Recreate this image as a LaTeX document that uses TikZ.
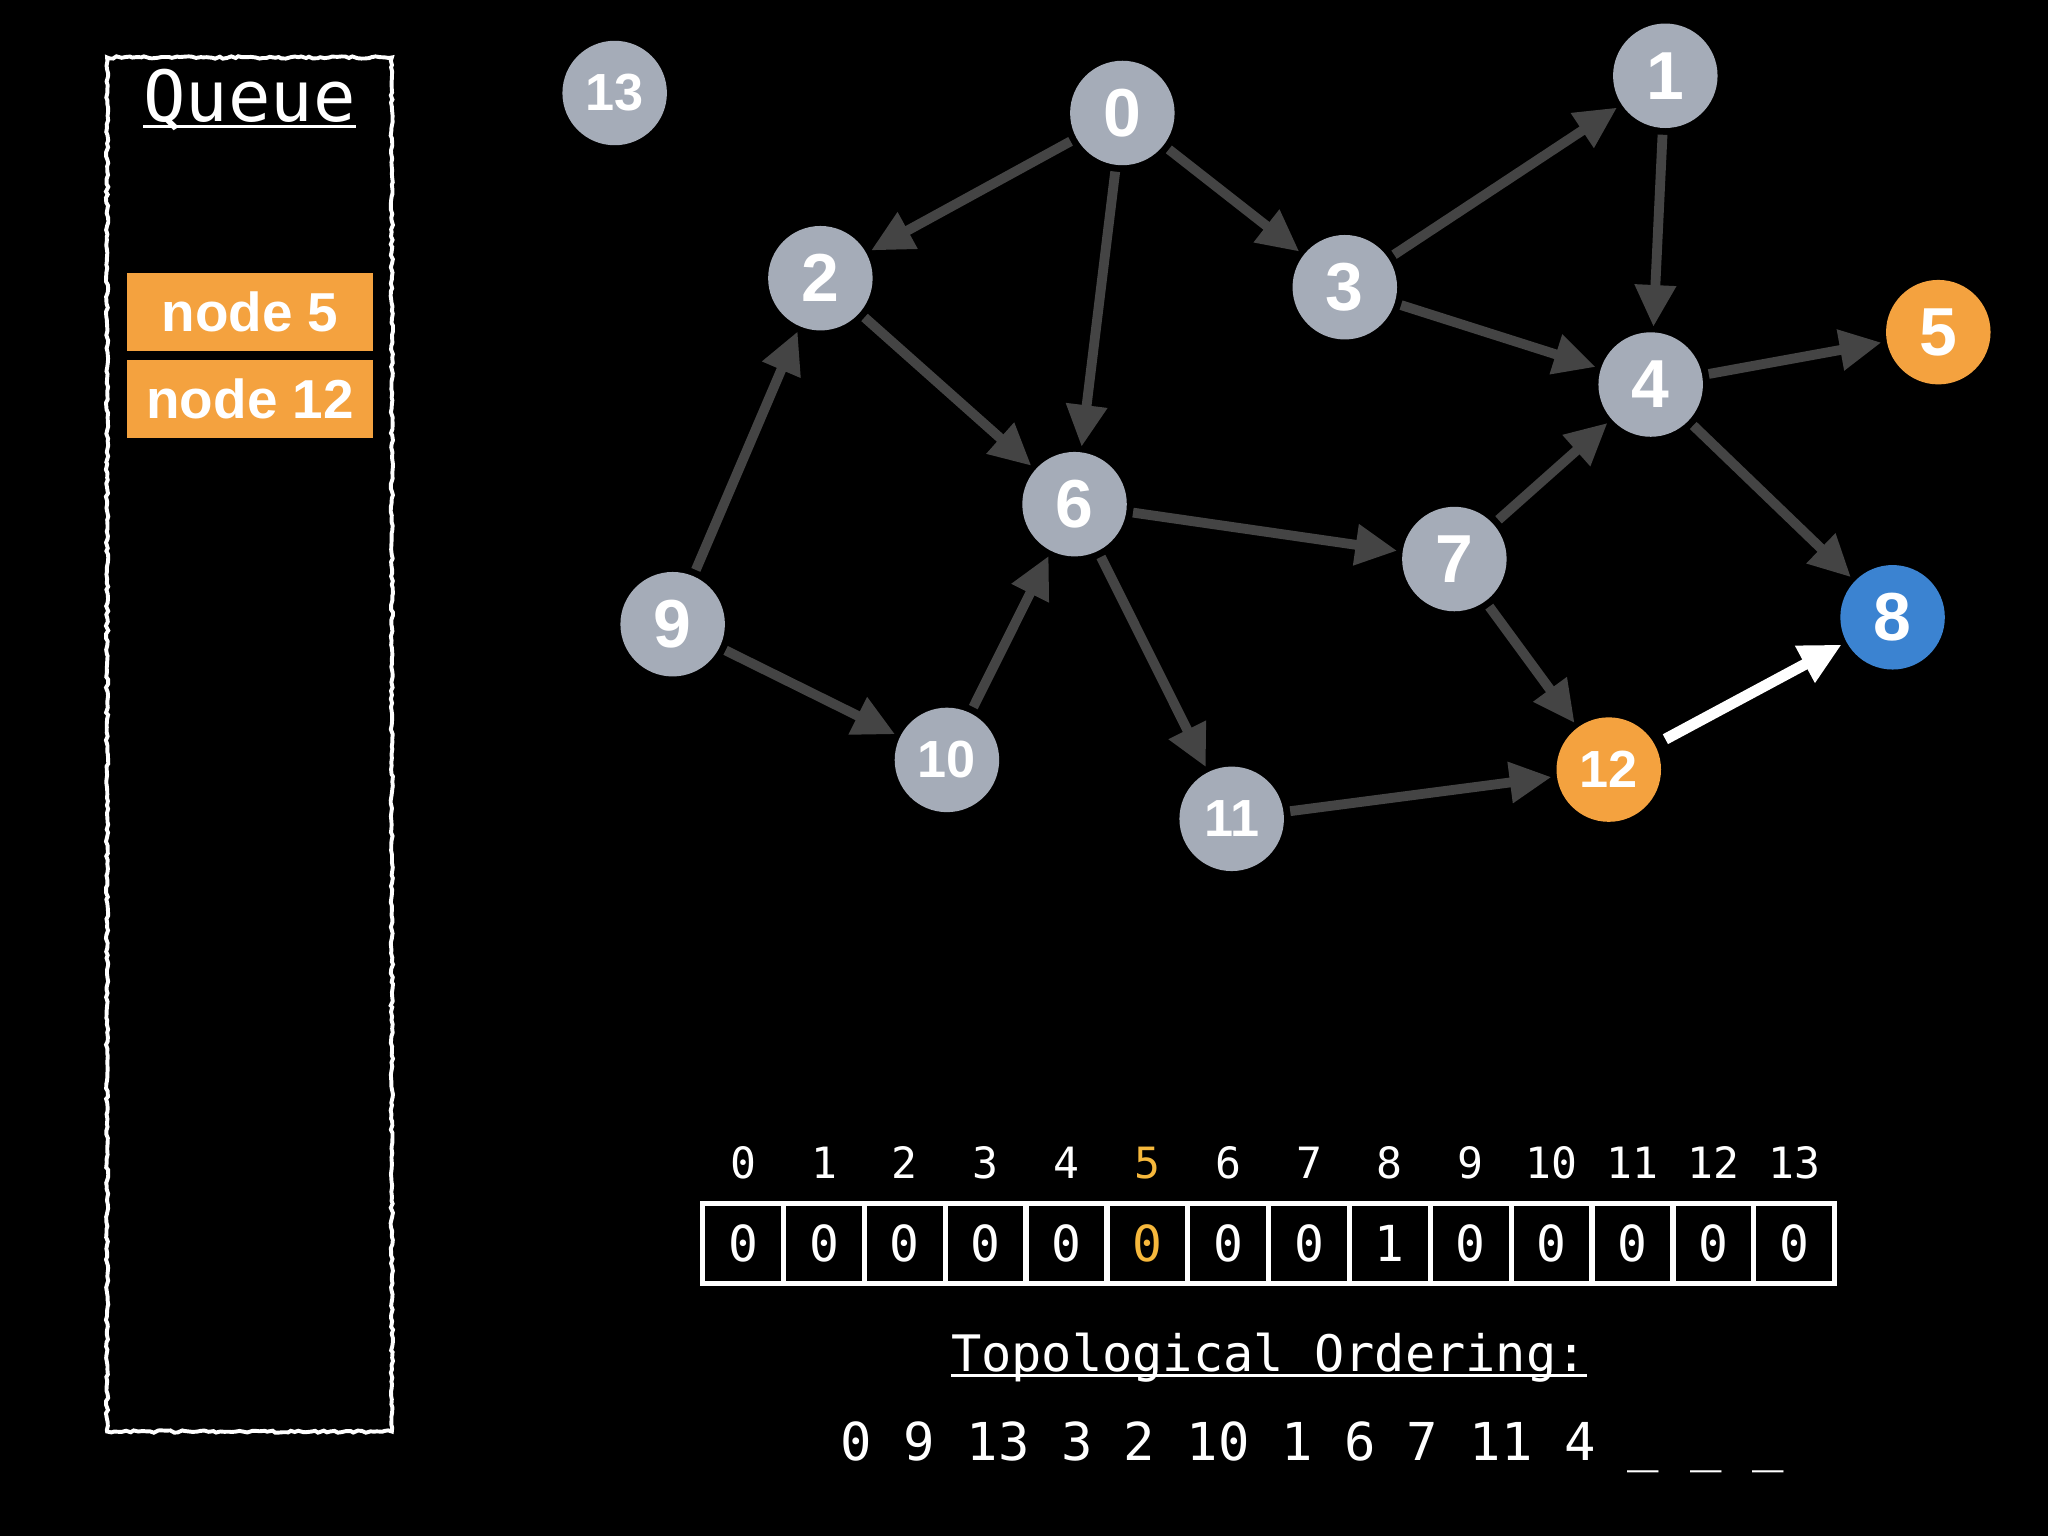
\documentclass[tikz,border=0pt]{standalone}
\usepackage{fontspec}
\setmainfont{Liberation Sans}
\newfontfamily\monofam{DejaVu Sans Mono}
\usetikzlibrary{arrows.meta,decorations.pathmorphing}
\definecolor{nodegray}{HTML}{A5ACB8}
\definecolor{edgegray}{HTML}{444444}
\definecolor{qorange}{HTML}{F4A23F}
\definecolor{nblue}{HTML}{3B83D1}
\definecolor{hlorange}{HTML}{F6B83C}
\begin{document}
\begin{tikzpicture}[x=1pt,y=-1pt,
  vert/.style={circle, fill=nodegray, minimum size=80pt, inner sep=0pt, text=white, font=\fontsize{52}{52}\selectfont\bfseries},
  vtwo/.style={vert, font=\fontsize{40}{40}\selectfont\bfseries},
  edge/.style={draw=edgegray, line width=7.5pt, -{Triangle[length=32pt,width=30pt]}, shorten <=5pt, shorten >=4pt},
  hotedge/.style={edge, draw=white, line width=8.5pt, shorten <=9pt},
  qitem/.style={fill=qorange, minimum width=188pt, minimum height=60pt, inner sep=0pt, text=white, font=\fontsize{42}{42}\selectfont\bfseries},
  cell/.style={draw=white, line width=4pt, minimum width=61.9pt, minimum height=61pt, inner sep=0pt, text=white, font=\monofam\fontsize{38}{38}\selectfont},
  idx/.style={text=white, inner sep=0pt, anchor=base, font=\monofam\fontsize{33}{33}\selectfont},
  monotext/.style={text=white, inner sep=0pt, anchor=base}
]
\fill[black] (0,0) rectangle (1568,1176);
\useasboundingbox (0,0) rectangle (1568,1176);

% Queue panel
\pgfmathsetseed{7}
\draw[white, line width=3pt, decorate, decoration={random steps, segment length=3pt, amplitude=0.9pt}]
  (82,44) rectangle (300,1096);
\node[monotext, font=\monofam\fontsize{54}{54}\selectfont] (qtitle) at (191,93) {Queue};
\draw[white, line width=2pt] (qtitle.base west) ++(0,4) coordinate (qul) -- (qtitle.base east |- qul);
\node[qitem] (q5) at (191.5,239) {node 5};
\node[qitem] (q12) at (191.5,305.5) {node 12};

% Graph vertices
\node[vtwo] (n13) at (470.6,71.2) {13};
\node[vert] (n0) at (859.3,86.5) {0};
\node[vert] (n1) at (1275,58) {1};
\node[vert] (n2) at (628.1,213) {2};
\node[vert] (n3) at (1029.6,219.9) {3};
\node[vert] (n4) at (1263.8,294.4) {4};
\node[vert, fill=qorange] (n5) at (1484,254.3) {5};
\node[vert] (n6) at (822.7,386) {6};
\node[vert] (n7) at (1113.5,428) {7};
\node[vert, fill=nblue] (n8) at (1449,472.6) {8};
\node[vert] (n9) at (515,477.9) {9};
\node[vtwo] (n10) at (725,581.8) {10};
\node[vtwo] (n11) at (943,626.9) {11};
\node[vtwo, fill=qorange] (n12) at (1231.7,589.2) {12};

% Edges
\draw[edge] (n0) -- (n2);
\draw[edge] (n0) -- (n6);
\draw[edge] (n0) -- (n3);
\draw[edge] (n3) -- (n1);
\draw[edge] (n3) -- (n4);
\draw[edge] (n1) -- (n4);
\draw[edge] (n2) -- (n6);
\draw[edge] (n9) -- (n2);
\draw[edge] (n9) -- (n10);
\draw[edge] (n10) -- (n6);
\draw[edge] (n6) -- (n7);
\draw[edge] (n6) -- (n11);
\draw[edge] (n7) -- (n4);
\draw[edge] (n7) -- (n12);
\draw[edge] (n4) -- (n5);
\draw[edge] (n4) -- (n8);
\draw[edge] (n11) -- (n12);
\draw[hotedge] (n12) -- (n8);

% In-degree array
\foreach \i/\v in {0/0,1/0,2/0,3/0,4/0,5/0,6/0,7/0,8/1,9/0,10/0,11/0,12/0,13/0}{
  \pgfmathsetmacro{\cx}{538+61.9*(\i+0.5)}
  \ifnum\i=5
    \node[cell, text=hlorange] (c\i) at (\cx,952) {\v};
    \node[idx, text=hlorange] (i\i) at (\cx,902) {\i};
  \else
    \node[cell] (c\i) at (\cx,952) {\v};
    \node[idx] (i\i) at (\cx,902) {\i};
  \fi
}

% Topological ordering
\node[monotext, font=\monofam\fontsize{38.5}{38.5}\selectfont] (toptitle) at (971.5,1050) {Topological Ordering:};
\draw[white, line width=2pt] (toptitle.base west) ++(0,3) coordinate (tul) -- (toptitle.base east |- tul);
\node[monotext, font=\monofam\fontsize{40}{40}\selectfont] (order) at (1005,1118) {0 9 13 3 2 10 1 6 7 11 4 \_ \_ \_};
\end{tikzpicture}
\end{document}
